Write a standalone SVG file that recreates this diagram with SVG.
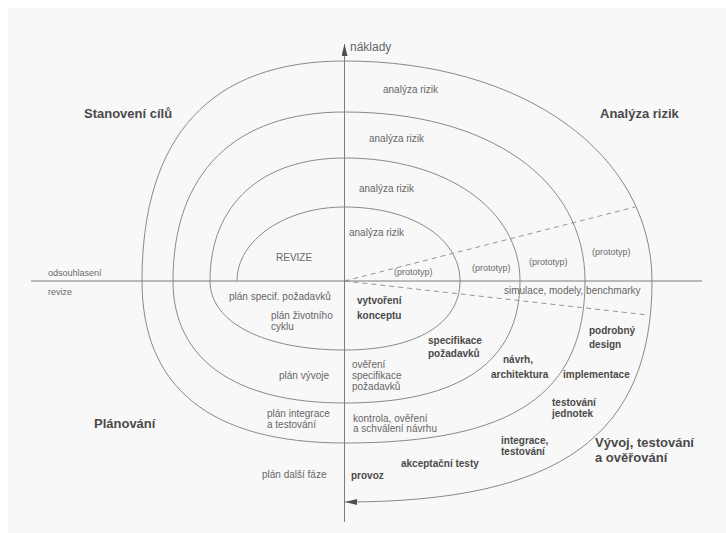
<svg xmlns="http://www.w3.org/2000/svg" width="726" height="533" viewBox="0 0 726 533">
  <style>
    .curve { fill: none; stroke: #7d7d7d; stroke-width: 0.9; }
    .axis { fill: none; stroke: #6e6e6e; stroke-width: 0.9; }
    .dash { fill: none; stroke: #8a8a8a; stroke-width: 0.9; stroke-dasharray: 5 4; }
    text { font-family: "Liberation Sans", Arial, sans-serif; }
    .head { font-size: 13px; font-weight: bold; fill: #4a4a4a; }
    .lbl { font-size: 10px; fill: #666666; }
    .sm { font-size: 9px; fill: #6a6a6a; }
    .act { font-size: 10px; font-weight: bold; fill: #4a4a4a; }
  </style>
  <defs>
    <marker id="arrow" viewBox="0 0 12 6" refX="12" refY="3" markerWidth="12" markerHeight="6" markerUnits="userSpaceOnUse" orient="auto">
      <path d="M0,0 L12,3 L0,6 Z" fill="#505050"/>
    </marker>
  </defs>

  <!-- sheet -->
  <rect x="0" y="0" width="726" height="533" fill="#ffffff"/>
  <rect x="8" y="8" width="718" height="525" fill="#f8f8f8"/>

  <!-- axes -->
  <g id="axes">
    <line class="axis" x1="31" y1="281" x2="702" y2="281"/>
    <line class="axis" x1="344.5" y1="522" x2="344.5" y2="44" marker-end="url(#arrow)"/>
  </g>

  <!-- spiral and prototype wedge -->
  <g id="connectors">
    <path id="spiral" class="curve" marker-end="url(#arrow)" d="
      M237,281 C237,240 285.4,207 344.5,207
      C411.5,207 460,238 460,281
      C460,323.8 416.1,350 344.5,350
      C263.8,350 210,322.4 210,281
      C210,204.7 261.1,158 344.5,158
      C446.3,158 520,209.7 520,281
      C520,361.5 460.3,403 344.5,403
      C234.7,403 173,359.1 173,281
      C173,172.8 234.7,112 344.5,112
      C488.8,112 585,179.6 585,281
      C585,394.4 512.9,443 344.5,443
      C210.9,443 142,387.9 142,281
      C142,135.8 210.9,61 344.5,61
      C522.9,61 652,153.4 652,281
      C652,435.7 559.8,502 345,502"/>
    <line class="dash" x1="344.5" y1="281" x2="635" y2="207"/>
    <line class="dash" x1="344.5" y1="281" x2="648" y2="315"/>
  </g>

  <!-- quadrant titles -->
  <g id="quadrants">
    <text class="lbl" x="350" y="51" style="font-size:12px">náklady</text>
    <text class="head" x="84" y="118">Stanovení cílů</text>
    <text class="head" x="600" y="118">Analýza rizik</text>
    <text class="head" x="94" y="428">Plánování</text>
    <text class="head" x="595" y="447">Vývoj, testování</text>
    <text class="head" x="595" y="462">a ověřování</text>
  </g>

  <!-- risk analysis and prototypes -->
  <g id="risk">
    <text class="lbl" x="383" y="93">analýza rizik</text>
    <text class="lbl" x="369" y="142">analýza rizik</text>
    <text class="lbl" x="359" y="192">analýza rizik</text>
    <text class="lbl" x="349" y="236">analýza rizik</text>
    <text class="sm" x="394" y="275">(prototyp)</text>
    <text class="sm" x="472" y="271">(prototyp)</text>
    <text class="sm" x="529" y="265">(prototyp)</text>
    <text class="sm" x="592" y="255">(prototyp)</text>
    <text class="lbl" x="504" y="294">simulace, modely, benchmarky</text>
  </g>

  <!-- review and planning -->
  <g id="planning">
    <text class="lbl" x="276" y="261">REVIZE</text>
    <text class="sm" x="48" y="276">odsouhlasení</text>
    <text class="sm" x="48" y="295">revize</text>
    <text class="lbl" x="229" y="300">plán specif. požadavků</text>
    <text class="lbl" x="271" y="319">plán životního</text>
    <text class="lbl" x="271" y="330">cyklu</text>
    <text class="lbl" x="279" y="379">plán vývoje</text>
    <text class="lbl" x="267" y="417">plán integrace</text>
    <text class="lbl" x="267" y="428">a testování</text>
    <text class="lbl" x="262" y="478">plán další fáze</text>
  </g>

  <!-- development activities -->
  <g id="development">
    <text class="act" x="357" y="304">vytvoření</text>
    <text class="act" x="357" y="319">konceptu</text>
    <text class="act" x="428" y="344">specifikace</text>
    <text class="act" x="428" y="357">požadavků</text>
    <text class="lbl" x="352" y="368">ověření</text>
    <text class="lbl" x="352" y="379">specifikace</text>
    <text class="lbl" x="352" y="390">požadavků</text>
    <text class="act" x="503" y="363">návrh,</text>
    <text class="act" x="491" y="378">architektura</text>
    <text class="act" x="589" y="334">podrobný</text>
    <text class="act" x="589" y="348">design</text>
    <text class="act" x="563" y="378">implementace</text>
    <text class="act" x="552" y="406">testování</text>
    <text class="act" x="552" y="417">jednotek</text>
    <text class="lbl" x="353" y="422">kontrola, ověření</text>
    <text class="lbl" x="353" y="432">a schválení návrhu</text>
    <text class="act" x="501" y="444">integrace,</text>
    <text class="act" x="501" y="455">testování</text>
    <text class="act" x="401" y="467">akceptační testy</text>
    <text class="act" x="351" y="479">provoz</text>
  </g>
</svg>
